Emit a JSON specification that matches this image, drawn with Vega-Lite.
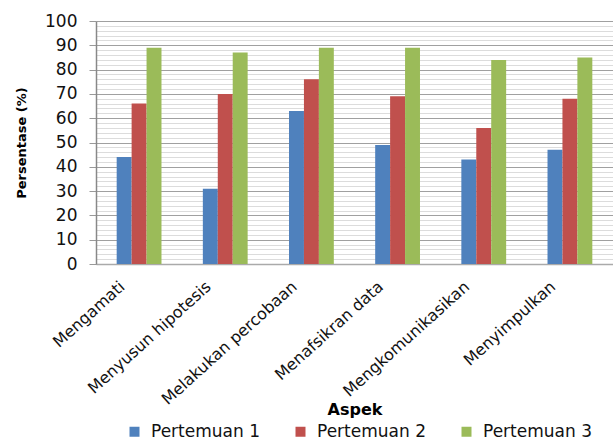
{
  "$schema": "https://vega.github.io/schema/vega-lite/v6.json",
  "width": 517,
  "height": 243,
  "autosize": {"type": "none"},
  "padding": {"left": 96, "top": 21, "right": 0, "bottom": 179},
  "config": {"view": {"stroke": null}, "font": "DejaVu Sans", "background": "white"},
  "data": {
    "values": [
      {"aspek": "Mengamati", "pertemuan": "Pertemuan 1", "nilai": 44},
      {"aspek": "Mengamati", "pertemuan": "Pertemuan 2", "nilai": 66},
      {"aspek": "Mengamati", "pertemuan": "Pertemuan 3", "nilai": 89},
      {"aspek": "Menyusun hipotesis", "pertemuan": "Pertemuan 1", "nilai": 31},
      {"aspek": "Menyusun hipotesis", "pertemuan": "Pertemuan 2", "nilai": 70},
      {"aspek": "Menyusun hipotesis", "pertemuan": "Pertemuan 3", "nilai": 87},
      {"aspek": "Melakukan percobaan", "pertemuan": "Pertemuan 1", "nilai": 63},
      {"aspek": "Melakukan percobaan", "pertemuan": "Pertemuan 2", "nilai": 76},
      {"aspek": "Melakukan percobaan", "pertemuan": "Pertemuan 3", "nilai": 89},
      {"aspek": "Menafsikran data", "pertemuan": "Pertemuan 1", "nilai": 49},
      {"aspek": "Menafsikran data", "pertemuan": "Pertemuan 2", "nilai": 69},
      {"aspek": "Menafsikran data", "pertemuan": "Pertemuan 3", "nilai": 89},
      {"aspek": "Mengkomunikasikan", "pertemuan": "Pertemuan 1", "nilai": 43},
      {"aspek": "Mengkomunikasikan", "pertemuan": "Pertemuan 2", "nilai": 56},
      {"aspek": "Mengkomunikasikan", "pertemuan": "Pertemuan 3", "nilai": 84},
      {"aspek": "Menyimpulkan", "pertemuan": "Pertemuan 1", "nilai": 47},
      {"aspek": "Menyimpulkan", "pertemuan": "Pertemuan 2", "nilai": 68},
      {"aspek": "Menyimpulkan", "pertemuan": "Pertemuan 3", "nilai": 85}
    ]
  },
  "mark": {"type": "bar"},
  "encoding": {
    "x": {
      "field": "aspek",
      "type": "nominal",
      "sort": null,
      "scale": {"paddingInner": 0.48, "paddingOuter": 0.24},
      "axis": {
        "title": "Aspek",
        "titleFont": "DejaVu Sans",
        "titleFontSize": 16,
        "titleFontWeight": "bold",
        "titleColor": "#000",
        "titleY": 137,
        "labelAngle": -42,
        "labelFontSize": 16,
        "labelColor": "#111",
        "labelPadding": 14,
        "labelOffset": -22,
        "ticks": false,
        "domainColor": "#aaaaaa",
        "domainWidth": 1.5
      }
    },
    "xOffset": {"field": "pertemuan", "type": "nominal", "scale": {"paddingInner": 0}},
    "y": {
      "field": "nilai",
      "type": "quantitative",
      "scale": {"domain": [0, 100], "nice": false},
      "axis": {
        "title": "Persentase (%)",
        "titleFont": "DejaVu Sans",
        "titleFontSize": 13,
        "titleFontWeight": "bold",
        "titleColor": "#000",
        "titlePadding": 16,
        "values": [0,2,4,6,8,10,12,14,16,18,20,22,24,26,28,30,32,34,36,38,40,42,44,46,48,50,52,54,56,58,60,62,64,66,68,70,72,74,76,78,80,82,84,86,88,90,92,94,96,98,100],
        "labelExpr": "datum.value % 10 === 0 ? datum.label : ''",
        "labelOverlap": false,
        "labelFontSize": 17,
        "labelColor": "#111",
        "labelPadding": 12,
        "tickSize": 7,
        "tickColor": "#999999",
        "tickOpacity": {"condition": {"test": "datum.value % 10 === 0", "value": 1}, "value": 0},
        "grid": true,
        "gridColor": {"condition": {"test": "datum.value % 10 === 0", "value": "#a0a0a0"}, "value": "#dcdcdc"},
        "gridWidth": 1.2,
        "domainColor": "#888888",
        "domainWidth": 1.5
      }
    },
    "color": {
      "field": "pertemuan",
      "type": "nominal",
      "scale": {"domain": ["Pertemuan 1", "Pertemuan 2", "Pertemuan 3"], "range": ["#4F81BD", "#C0504D", "#9BBB59"]},
      "legend": {
        "title": null,
        "orient": "none",
        "direction": "horizontal",
        "legendX": 30,
        "legendY": 402,
        "symbolType": "square",
        "symbolSize": 100,
        "symbolStrokeWidth": 0,
        "labelFontSize": 17,
        "labelColor": "#111",
        "labelOffset": 8,
        "columnPadding": 32
      }
    }
  }
}
